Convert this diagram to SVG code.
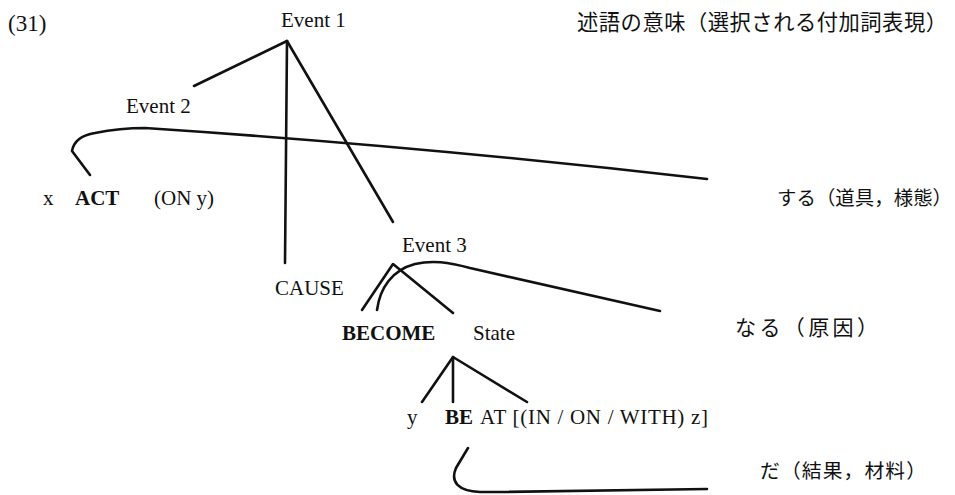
<svg xmlns="http://www.w3.org/2000/svg" width="955" height="495" viewBox="0 0 955 495">
<style>
.t{font-family:"Liberation Serif","Times New Roman",serif;font-size:21px;fill:#111}
.b{font-weight:bold}
.j{font-family:"Noto Sans CJK JP","Noto Sans",sans-serif;font-size:20px;fill:#111}
.l{fill:none;stroke:#111;stroke-width:2.6;stroke-linecap:round;stroke-linejoin:round}
</style>
<rect width="955" height="495" fill="#fff"/>
<g id="label31"><text class="t" x="8" y="31" style="font-size:23px">(31)</text></g>
<g id="event1"><text class="t" x="281" y="27">Event 1</text></g>
<g id="event2"><text class="t" x="126" y="113">Event 2</text></g>
<g id="act"><text class="t" x="43" y="205">x</text><text class="t b" x="75" y="205">ACT</text><text class="t" x="154" y="205">(ON y)</text></g>
<g id="event3"><text class="t" x="402" y="252">Event 3</text></g>
<g id="cause"><text class="t" x="275" y="295">CAUSE</text></g>
<g id="become"><text class="t b" x="342" y="340">BECOME</text></g>
<g id="state"><text class="t" x="473" y="340">State</text></g>
<g id="be"><text class="t" x="407" y="424">y</text><text class="t b" x="445" y="424">BE</text><text class="t" x="480" y="424" textLength="228" lengthAdjust="spacing">AT [(IN / ON / WITH) z]</text></g>
<g id="heading"><text class="j" x="577" y="30" textLength="370" lengthAdjust="spacing" style="font-size:21.3px">述語の意味（選択される付加詞表現）</text></g>
<g id="suru"><text class="j" x="777" y="205" textLength="175" lengthAdjust="spacing" style="font-size:19.4px">する（道具，様態）</text></g>
<g id="naru"><text class="j" x="735" y="335" textLength="143" lengthAdjust="spacing" style="font-size:21px">なる（原因）</text></g>
<g id="da"><text class="j" x="760" y="478" textLength="166" lengthAdjust="spacing" style="font-size:19.8px">だ（結果，材料）</text></g>
<g id="connectors">
<path class="l" d="M287,41 L194,86"/>
<path class="l" d="M287,41 L285,263"/>
<path class="l" d="M287,41 L393,222"/>
<path class="l" d="M90,175 L72,151 C74,140 82,135 95,133 C110,130 125,128 145,128 Q420,146 707,179"/>
<path class="l" d="M362,310 L393,264 L453,313"/>
<path class="l" d="M377,310 C380,288 392,270 415,264 C432,260 448,262 470,268 L660,311"/>
<path class="l" d="M422,402 L453,357 L527,402"/>
<path class="l" d="M453,357 L453,402"/>
<path class="l" d="M468,448 L456,468 C450,482 458,491 480,492 L500,492 L707,489"/>
</g>
</svg>
